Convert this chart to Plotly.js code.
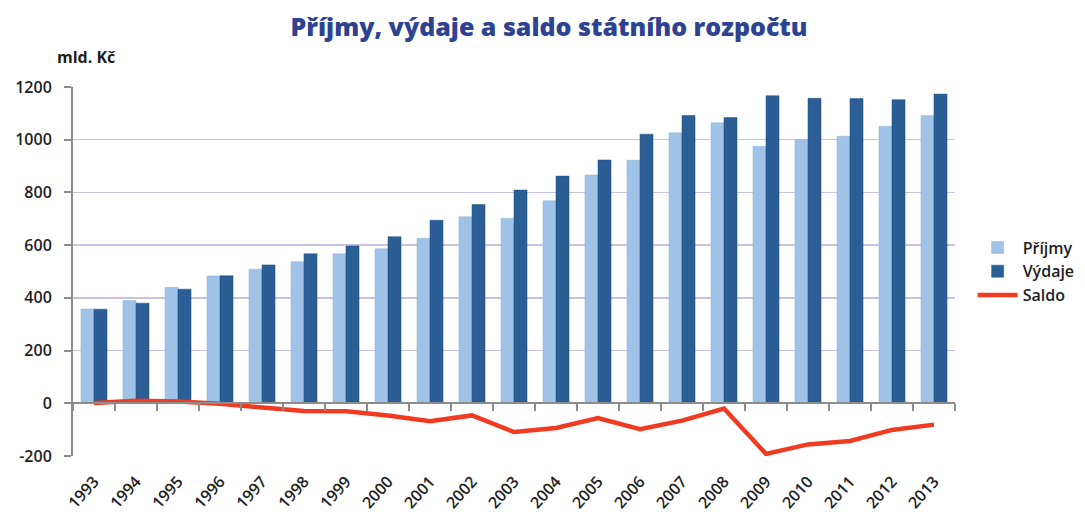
<!DOCTYPE html>
<html>
<head>
<meta charset="utf-8">
<script src="https://cdn.plot.ly/plotly-3.0.1.min.js"></script>
<style>html,body{margin:0;padding:0;background:#fff;}#chart{width:1085px;height:517px;}</style>
</head>
<body>
<div id="chart"></div>
<script>
const years = ['1993','1994','1995','1996','1997','1998','1999','2000','2001','2002','2003','2004','2005','2006','2007','2008','2009','2010','2011','2012','2013'];
const prijmy = [358, 390, 440, 483, 509, 537, 567, 586, 626, 708, 702, 768, 866, 922, 1026, 1064, 975, 1000, 1013, 1051, 1092];
const vydaje = [357, 380, 433, 484, 525, 567, 597, 632, 694, 754, 809, 862, 923, 1021, 1092, 1084, 1167, 1157, 1156, 1152, 1173];
const saldo  = [1, 10, 7, -2, -16, -29, -30, -46, -68, -46, -109, -94, -56, -98, -66, -20, -192, -156, -143, -101, -81];
const yTicks = [-200, 0, 200, 400, 600, 800, 1000, 1200];

const tickFont = {family: 'Open Sans, sans-serif', size: 16, color: '#1e1e1e', weight: 600};

const traces = [
  {type: 'bar', name: 'Příjmy', x: years, y: prijmy, marker: {color: '#9fc3e6', line: {color: '#8fb3d6', width: 0.5}}},
  {type: 'bar', name: 'Výdaje', x: years, y: vydaje, marker: {color: '#2a5e94', line: {color: '#1f4f80', width: 0.5}}},
  {type: 'scatter', mode: 'lines', name: 'Saldo', x: years, y: saldo, xaxis: 'x2',
   line: {color: '#f03a22', width: 4.5}}
];

const layout = {
  width: 1085, height: 517,
  margin: {l: 73, r: 130, t: 87, b: 61, autoexpand: false},
  paper_bgcolor: '#ffffff', plot_bgcolor: '#ffffff',
  title: {text: 'Příjmy, výdaje a saldo státního rozpočtu', x: 0.506, xanchor: 'center', y: 0.948, yanchor: 'middle',
          font: {family: 'Open Sans, sans-serif', size: 25, color: '#2d4291', weight: 800}},
  barmode: 'group', bargap: 0.38, bargroupgap: 0,
  showlegend: true,
  legend: {x: 1.02, xanchor: 'left', y: 0.5, yanchor: 'middle', font: {family: 'Open Sans, sans-serif', size: 16, color: '#1e1e1e', weight: 600},
           bgcolor: 'rgba(0,0,0,0)', itemwidth: 40},
  xaxis: {type: 'category', range: [-0.5, 20.5], showgrid: false, showline: false, zeroline: false, ticks: '',
          tickangle: -48, tickfont: tickFont, ticklabelstandoff: 12, fixedrange: true},
  xaxis2: {type: 'category', matches: 'x', overlaying: 'x', anchor: 'free', position: 1/7, side: 'bottom',
           showline: true, linecolor: '#8c8c8c', linewidth: 2, ticks: 'outside', tickson: 'boundaries', ticklen: 7,
           tickcolor: '#8c8c8c', tickwidth: 2, showticklabels: false, showgrid: false, zeroline: false},
  yaxis: {range: [-200, 1200], tickvals: yTicks, ticktext: yTicks.map(String), showgrid: true, gridcolor: '#cbc2e0', gridwidth: 1.5,
          zeroline: false, showline: true, linecolor: '#8c8c8c', linewidth: 2, ticks: 'outside', ticklen: 7, tickcolor: '#8c8c8c', tickwidth: 2,
          tickfont: tickFont, ticklabelstandoff: 9},
  annotations: [
    {text: 'mld. Kč', xref: 'paper', yref: 'paper', x: -0.02, y: 1.046, xanchor: 'left', yanchor: 'bottom', showarrow: false,
     font: {family: 'Open Sans, sans-serif', size: 16, color: '#1e1e1e', weight: 700}}
  ]
};

Plotly.newPlot('chart', traces, layout, {displayModeBar: false, staticPlot: true});
</script>
</body>
</html>
